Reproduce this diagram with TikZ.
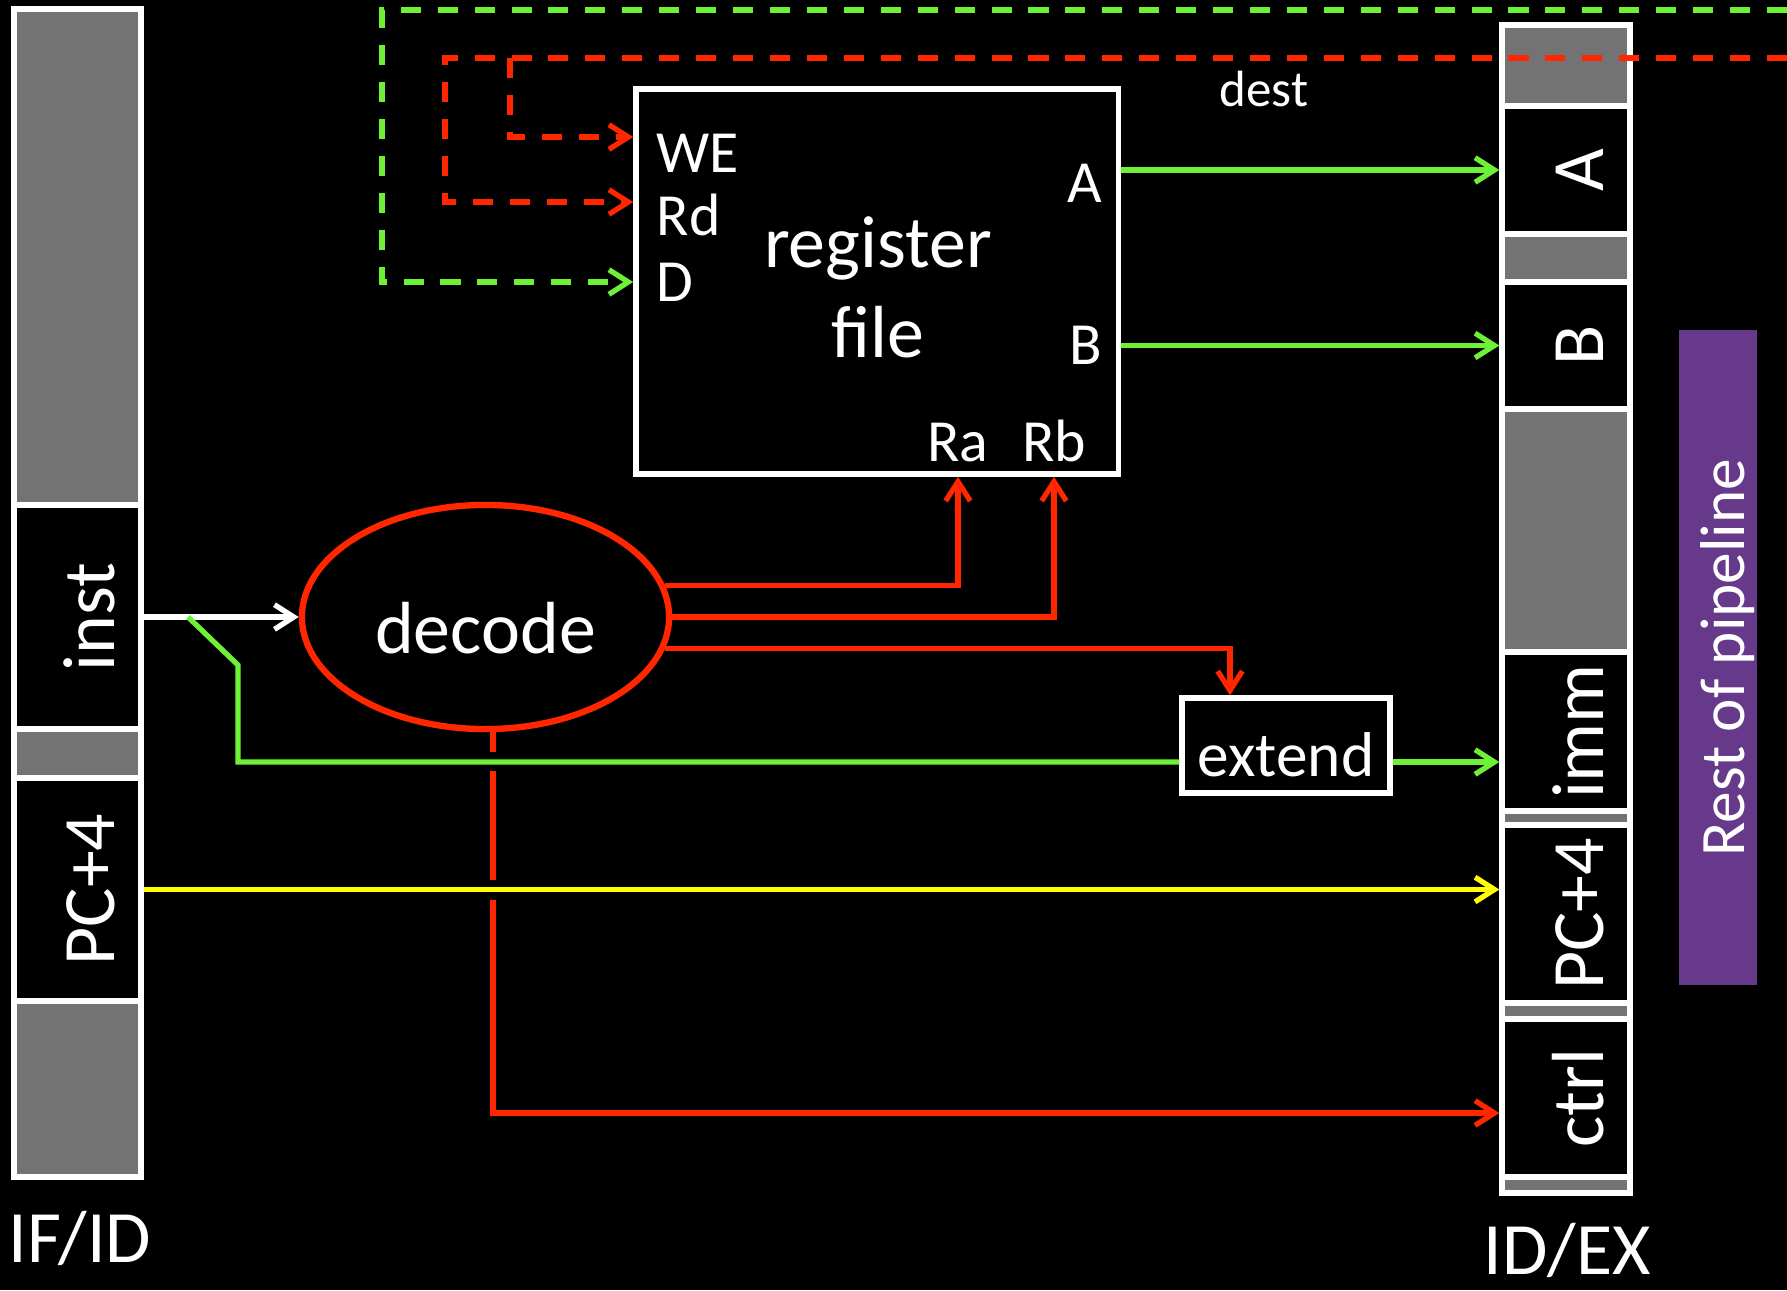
\documentclass[tikz,border=0pt]{standalone}
\usepackage{fontspec}
\setmainfont{Carlito}
\usetikzlibrary{arrows.meta,shapes.geometric}
\definecolor{gr}{RGB}{110,240,55}
\definecolor{rd}{RGB}{255,38,0}
\definecolor{yl}{RGB}{255,255,0}
\definecolor{regGray}{RGB}{115,115,115}
\definecolor{purp}{RGB}{102,57,138}
\begin{document}
\begin{tikzpicture}[x=0.01cm,y=-0.01cm,
  seg/.style={draw=white, line width=1.5pt, inner sep=0pt},
  gseg/.style={seg, fill=regGray},
  bseg/.style={seg, fill=black},
  big/.style={text=white, inner sep=0pt, font=\fontsize{21}{25.6}\selectfont},
  mid/.style={text=white, inner sep=0pt, font=\fontsize{17}{20}\selectfont},
  rlab/.style={big, rotate=90, anchor=base},
  arrowtip/.style={-{Straight Barb[length=5.5pt,width=7pt]}},
  wline/.style={draw=white, line width=1.5pt},
  gline/.style={draw=gr, line width=1.5pt},
  rline/.style={draw=rd, line width=1.5pt},
  yline/.style={draw=yl, line width=1.5pt},
  gdash/.style={gline, dash pattern=on 5.7pt off 4.8pt},
  rdash/.style={rline, dash pattern=on 5.7pt off 4.8pt}
]
\fill[black] (0,0) rectangle (1787,1290);
\useasboundingbox (0,0) rectangle (1787,1290);

% IF/ID register
\begin{scope}[every node/.append style={minimum width=1.27cm}]
\node[gseg, minimum height=4.96cm] (f1) at (77.5,257) {};
\node[bseg, minimum height=2.24cm] (inst) at (77.5,617) {};
\node[gseg, minimum height=0.49cm] (f3) at (77.5,753.5) {};
\node[bseg, minimum height=2.23cm] (pcA) at (77.5,889.5) {};
\node[gseg, minimum height=1.76cm] (f5) at (77.5,1089) {};
\end{scope}
\node[rlab] (instL) at (114.5,617) {inst};
\node[rlab] (pcAL) at (114.5,889.5) {PC+4};
\node[big, anchor=base] (ifid) at (80,1262) {IF/ID};

% ID/EX register
\begin{scope}[every node/.append style={minimum width=1.28cm}]
\node[gseg, minimum height=0.81cm] (e1) at (1566,65.5) {};
\node[bseg, minimum height=1.28cm] (A) at (1566,170) {};
\node[gseg, minimum height=0.48cm] (e3) at (1566,258) {};
\node[bseg, minimum height=1.27cm] (B) at (1566,345.5) {};
\node[gseg, minimum height=2.43cm] (e5) at (1566,530.5) {};
\node[bseg, minimum height=1.59cm] (imm) at (1566,731.5) {};
\node[gseg, minimum height=0.14cm] (e7) at (1566,818) {};
\node[bseg, minimum height=1.78cm] (pcB) at (1566,914) {};
\node[gseg, minimum height=0.16cm] (e9) at (1566,1011) {};
\node[bseg, minimum height=1.58cm] (ctrl) at (1566,1098) {};
\node[gseg, minimum height=0.16cm] (e11) at (1566,1185) {};
\end{scope}
\node[rlab] (AL) at (1603,170) {A};
\node[rlab] (BL) at (1603,345.5) {B};
\node[rlab] (immL) at (1603,731.5) {imm};
\node[rlab] (pcBL) at (1603,914) {PC+4};
\node[rlab] (ctrlL) at (1603,1098) {ctrl};
\node[big, anchor=base] (idex) at (1567,1274) {ID/EX};

% rest of pipeline
\node[fill=purp, rotate=90, minimum width=6.55cm, minimum height=0.78cm, inner sep=0pt,
  text=white, font=\fontsize{18}{21}\selectfont, text height=14.8pt, text depth=0pt]
  (rest) at (1718,657.5) {Rest of pipeline};

% register file
\node[draw=white, line width=1.5pt, minimum width=4.82cm, minimum height=3.85cm] (regfile) at (877,281.5) {};
\node[big, align=center] (rfname) at (878,287) {register\\file};
\node[mid, anchor=base west] (WE) at (656,172) {WE};
\node[mid, anchor=base west] (Rd) at (656,235) {Rd};
\node[mid, anchor=base west] (D) at (656,301) {D};
\node[mid, anchor=base east] (Aout) at (1103,202) {A};
\node[mid, anchor=base east] (Bout) at (1103,364) {B};
\node[mid, anchor=base] (Ra) at (958,461) {Ra};
\node[mid, anchor=base] (Rb) at (1054,461) {Rb};
\node[text=white, inner sep=0pt, font=\fontsize{14.5}{17}\selectfont, anchor=base] (dest) at (1264,106) {dest};

% decode and extend
\node[ellipse, draw=rd, line width=1.8pt, minimum width=3.67cm, minimum height=2.24cm,
  inner sep=0pt, big, text height=20.5pt, text depth=0pt] (decode) at (485.5,617) {decode};
\node[draw=white, line width=1.5pt, minimum width=2.08cm, minimum height=0.95cm, inner sep=0pt,
  text=white, font=\fontsize{18}{21}\selectfont, text height=17.9pt, text depth=0pt] (extend) at (1286,745.5) {extend};

% helper coordinates
\coordinate (gEnd) at (1787,10);
\coordinate (rEnd) at (1787,58);
\coordinate (gsplit) at (188,617);
\coordinate (ey) at (0,762);
\coordinate (exc) at (1230,0);
\coordinate (cx) at (493,0);

% dashed writeback lines
\draw[gdash, arrowtip] (gEnd) -- (382,10) -- (382,282) -- (regfile.west |- 0,282);
\draw[rdash, arrowtip] (rEnd) -- (445,58) -- (445,202) -- (regfile.west |- 0,202);
\draw[rdash, arrowtip] (510,58) -- (510,137) -- (regfile.west |- 0,137);

% register file outputs
\draw[gline, arrowtip] (regfile.east |- A.west) -- (A.west);
\draw[gline, arrowtip] (regfile.east |- B.west) -- (B.west);

% inst to decode
\draw[wline, arrowtip] (inst.east) -- (inst.east -| decode.west);
\draw[gline] (gsplit) -- (238,665) -- (238,762) -- (extend.west |- ey);
\draw[gline, arrowtip] (extend.east |- ey) -- (imm.west |- ey);

% decode outputs
\draw[rline, arrowtip] (decode.10) -- (decode.10 -| Ra) -- (Ra |- regfile.south);
\draw[rline, arrowtip] (decode.east) -- (decode.east -| Rb) -- (Rb |- regfile.south);
\draw[rline, arrowtip] (decode.-10) -- (decode.-10 -| exc) -- (exc |- extend.north);
\draw[rline] (cx |- decode.south) -- (493,752);
\draw[rline] (493,771) -- (493,880);
\draw[rline, arrowtip] (493,900) -- (493,1113) -- (ctrl.west |- 0,1113);

% PC+4
\draw[yline, arrowtip] (pcA.east) -- (pcA.east -| pcB.west);
\end{tikzpicture}
\end{document}
